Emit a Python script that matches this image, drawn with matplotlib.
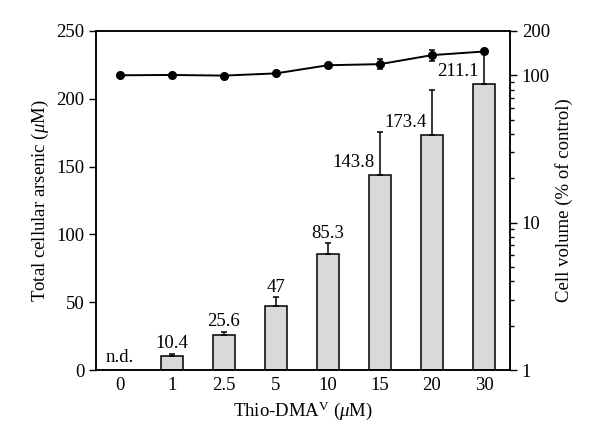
import numpy as np
import matplotlib
matplotlib.use('Agg')
import matplotlib.pyplot as plt
import matplotlib.ticker as mticker

plt.rcParams['font.family'] = ['Liberation Serif', 'DejaVu Serif']
plt.rcParams['mathtext.fontset'] = 'custom'
plt.rcParams['mathtext.rm'] = 'Liberation Serif'
plt.rcParams['mathtext.it'] = 'Liberation Serif:italic'
plt.rcParams['font.size'] = 13.5

# data
doses = ['0', '1', '2.5', '5', '10', '15', '20', '30']
arsenic = [0, 10.4, 25.6, 47, 85.3, 143.8, 173.4, 211.1]
arsenic_err = [0, 1.4, 2.5, 6.5, 8, 32, 33, 25]
bar_labels = ['n.d.', '10.4', '25.6', '47', '85.3', '143.8', '173.4', '211.1']
volume = [100, 100.5, 99.5, 103, 117, 119, 137, 145]
volume_err = [0, 0, 0, 0, 0, 9, 12, 0]

x = np.arange(len(doses))

fig = plt.figure(figsize=(6, 4.48), dpi=100)
ax = fig.add_axes([0.16, 0.174, 0.69, 0.757])

ax.bar(x, arsenic, width=0.42, color='#d9d9d9', edgecolor='black', linewidth=1.1, zorder=2)
ax.errorbar(x[1:], arsenic[1:], yerr=[np.zeros(len(x) - 1), arsenic_err[1:]],
            fmt='none', ecolor='black', elinewidth=1.1, capsize=2, capthick=1.1, zorder=3)

# value labels
for i in x:
    if i == 0:
        ax.text(i, 9, bar_labels[i], ha='center', va='center')
    elif i < 5:
        ax.text(i, arsenic[i] + arsenic_err[i] + 7.5, bar_labels[i], ha='center', va='center')
    else:
        ax.text(i - 0.1, arsenic[i] + 9, bar_labels[i], ha='right', va='center')

ax.set_xlim(-0.46, 7.5)
ax.set_ylim(0, 250)
ax.set_yticks([0, 50, 100, 150, 200, 250])
ax.set_xticks(x)
ax.set_xticklabels(doses)
ax.tick_params(axis='x', length=0, pad=5)
ax.tick_params(axis='y', direction='out', length=5, width=1)
ax.set_ylabel(r'Total cellular arsenic ($\mu$M)')
ax.set_xlabel(r'Thio-DMA$^{\mathrm{V}}$ ($\mu$M)', labelpad=4)
for s in ax.spines.values():
    s.set_linewidth(1.1)

ax2 = ax.twinx()
ax2.errorbar(x, volume, yerr=volume_err, fmt='-o', color='black', markersize=5.5,
             linewidth=1.4, elinewidth=1.1, capsize=2, capthick=1.1, zorder=4)
ax2.set_yscale('log')
ax2.set_ylim(1, 200)
ax2.set_yticks([1, 10, 100, 200])
ax2.yaxis.set_major_formatter(mticker.FixedFormatter(['1', '10', '100', '200']))
ax2.yaxis.set_minor_locator(mticker.LogLocator(base=10, subs=np.arange(2, 10), numticks=10))
ax2.yaxis.set_minor_formatter(mticker.NullFormatter())
ax2.tick_params(axis='y', which='major', direction='out', length=5, width=1)
ax2.tick_params(axis='y', which='minor', direction='out', length=3, width=1)
ax2.set_ylabel('Cell volume (% of control)')
for s in ax2.spines.values():
    s.set_linewidth(1.1)

fig.savefig('out.png', dpi=100)
